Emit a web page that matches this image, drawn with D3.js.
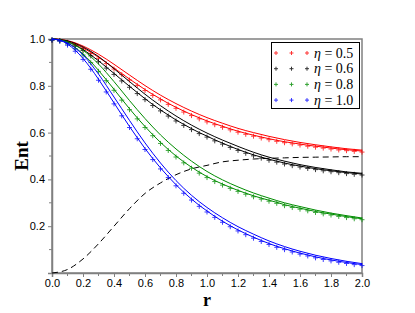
<!DOCTYPE html>
<html><head><meta charset="utf-8">
<script src="https://cdn.jsdelivr.net/npm/d3@7"></script>
<style>body{margin:0;background:#fff}svg{display:block}</style>
</head><body>
<script>
// ---- data ----
const rFine = [0.00,0.05,0.10,0.15,0.20,0.25,0.30,0.35,0.40,0.45,0.50,0.55,0.60,0.65,0.70,0.75,0.80,0.85,0.90,0.95,1.00,1.05,1.10,1.15,1.20,1.25,1.30,1.35,1.40,1.45,1.50,1.55,1.60,1.65,1.70,1.75,1.80,1.85,1.90,1.95,2.00];
const rCoarse = [0.0,0.1,0.2,0.3,0.4,0.5,0.6,0.7,0.8,0.9,1.0,1.1,1.2,1.3,1.4,1.5,1.6,1.7,1.8,1.9,2.0];

const red05Lower = [1.000,0.998,0.990,0.978,0.962,0.943,0.922,0.899,0.876,0.852,0.829,0.806,0.784,0.763,0.744,0.725,0.708,0.692,0.677,0.663,0.650,0.638,0.627,0.616,0.606,0.597,0.589,0.581,0.574,0.567,0.561,0.556,0.551,0.546,0.542,0.538,0.534,0.530,0.527,0.524,0.521];
const red05Upper = [1.000,0.993,0.970,0.935,0.892,0.846,0.801,0.760,0.724,0.692,0.664,0.640,0.618,0.600,0.584,0.570,0.558,0.548,0.539,0.531,0.525];

const blk06Lower = [1.000,0.997,0.988,0.974,0.955,0.932,0.907,0.880,0.853,0.825,0.798,0.771,0.745,0.720,0.697,0.675,0.654,0.635,0.617,0.600,0.585,0.569,0.555,0.541,0.528,0.516,0.505,0.495,0.486,0.478,0.470,0.463,0.457,0.451,0.446,0.441,0.437,0.433,0.429,0.426,0.423];
const blk06Upper = [1.000,0.992,0.966,0.925,0.873,0.818,0.764,0.715,0.671,0.632,0.598,0.568,0.541,0.516,0.495,0.478,0.463,0.451,0.441,0.432,0.426];

const grn08Lower = [1.000,0.996,0.983,0.963,0.936,0.903,0.866,0.826,0.785,0.743,0.702,0.663,0.626,0.591,0.558,0.528,0.500,0.475,0.452,0.431,0.412,0.395,0.380,0.366,0.353,0.341,0.330,0.320,0.311,0.302,0.292,0.284,0.277,0.270,0.263,0.257,0.252,0.246,0.241,0.236,0.232];
const grn08Upper = [1.000,0.988,0.952,0.893,0.818,0.737,0.660,0.590,0.530,0.478,0.434,0.398,0.368,0.342,0.320,0.300,0.284,0.269,0.256,0.245,0.235];

const blu10Lower = [1.000,0.995,0.978,0.952,0.917,0.875,0.828,0.778,0.727,0.676,0.626,0.578,0.532,0.489,0.449,0.412,0.377,0.345,0.316,0.289,0.265,0.242,0.221,0.202,0.184,0.168,0.153,0.139,0.126,0.114,0.104,0.094,0.085,0.077,0.069,0.062,0.056,0.050,0.045,0.040,0.036];
const blu10Upper = [1.000,0.983,0.932,0.850,0.752,0.652,0.556,0.470,0.395,0.332,0.280,0.236,0.198,0.166,0.137,0.113,0.093,0.076,0.062,0.050,0.040];

const dashedCurve = [0.000,0.015,0.060,0.125,0.200,0.275,0.340,0.385,0.420,0.445,0.460,0.475,0.482,0.487,0.490,0.492,0.494,0.495,0.496,0.497,0.497];

const etaLabels = ["0.5","0.6","0.8","1.0"];
const seriesColors = ["#ff0000","#000000","#008c00","#0000ff"];
const xTicks = [0.0,0.2,0.4,0.6,0.8,1.0,1.2,1.4,1.6,1.8,2.0];
const yTicks = [0.2,0.4,0.6,0.8,1.0];

const series = [
  {lower: red05Lower, upper: red05Upper},
  {lower: blk06Lower, upper: blk06Upper},
  {lower: grn08Lower, upper: grn08Upper},
  {lower: blu10Lower, upper: blu10Upper}
];

// ---- chart ----
const W = 415, H = 313;
const m = {left: 52, right: 53, top: 39, bottom: 40};
const svg = d3.select("body").append("svg").attr("width", W).attr("height", H);
const x = d3.scaleLinear().domain([0, 2]).range([m.left, W - m.right]);
const y = d3.scaleLinear().domain([0, 1]).range([H - m.bottom, m.top]);

const axisColor = "#808080";
// frame
svg.append("rect").attr("x", x(0)).attr("y", y(1)).attr("width", x(2) - x(0)).attr("height", y(0) - y(1))
  .attr("fill", "none").attr("stroke", axisColor).attr("stroke-width", 1.5);

// axes
const fontSans = "'Liberation Sans', Arial, sans-serif";
const xAxis = d3.axisBottom(x).tickValues(xTicks).tickFormat(d3.format(".1f")).tickSize(4).tickPadding(2);
const gx = svg.append("g").attr("transform", `translate(0,${y(0)})`).call(xAxis);
const yAxis = d3.axisLeft(y).tickValues(yTicks).tickFormat(d3.format(".1f")).tickSize(4).tickPadding(3);
const gy = svg.append("g").attr("transform", `translate(${x(0)},0)`).call(yAxis);
[gx, gy].forEach(g => {
  g.select(".domain").attr("stroke", axisColor).attr("stroke-width", 1.5);
  g.selectAll(".tick line").attr("stroke", axisColor);
  g.selectAll(".tick text").attr("fill", "#000").style("font-family", fontSans).style("font-size", "11px");
});
// minor ticks
const minorX = d3.range(1, 20, 2).map(i => i / 10);
svg.append("g").selectAll("line").data(minorX).join("line")
  .attr("x1", d => x(d)).attr("x2", d => x(d)).attr("y1", y(0)).attr("y2", y(0) + 3)
  .attr("stroke", axisColor);
const minorY = d3.range(1, 10, 2).map(i => i / 10);
svg.append("g").selectAll("line").data(minorY).join("line")
  .attr("y1", d => y(d)).attr("y2", d => y(d)).attr("x1", x(0)).attr("x2", x(0) - 3)
  .attr("stroke", axisColor);

// dashed curve
const lineC = d3.line().x((d, i) => x(rCoarse[i])).y(d => y(d)).curve(d3.curveMonotoneX);
const lineF = d3.line().x((d, i) => x(rFine[i])).y(d => y(d)).curve(d3.curveMonotoneX);
svg.append("path").attr("d", lineC(dashedCurve)).attr("fill", "none")
  .attr("stroke", "#000").attr("stroke-width", 1).attr("stroke-dasharray", "6,4");

// series
function plus(g, cx, cy, s, color, op) {
  g.append("path").attr("d", `M${cx - s},${cy}H${cx + s}M${cx},${cy - s}V${cy + s}`)
    .attr("stroke", color).attr("stroke-width", 1).attr("opacity", op);
}
series.forEach((s, k) => {
  const col = seriesColors[k];
  svg.append("path").attr("d", lineC(s.upper)).attr("fill", "none").attr("stroke", col).attr("stroke-width", 1);
  svg.append("path").attr("d", lineF(s.lower)).attr("fill", "none").attr("stroke", col).attr("stroke-width", 1);
  const g = svg.append("g");
  s.lower.forEach((v, i) => plus(g, x(rFine[i]), y(v) + 1, 2.5, col, 0.75));
});

// legend
const lg = svg.append("g");
lg.append("rect").attr("x", 271.5).attr("y", 42.5).attr("width", 88).attr("height", 66)
  .attr("fill", "#fff").attr("stroke", "#000").attr("stroke-width", 1);
etaLabels.forEach((lab, k) => {
  const yy = 53 + k * 15.7;
  [276, 291.5, 307].forEach(cx => plus(lg, cx, yy, 2, seriesColors[k], 0.8));
  const t = lg.append("text").attr("x", 314).attr("y", yy + 4.5)
    .style("font-family", "'Liberation Serif','DejaVu Serif',serif").style("font-size", "14px");
  t.append("tspan").style("font-style", "italic").text("η");
  t.append("tspan").text(" = " + lab);
});

// axis titles
svg.append("text").attr("x", x(1)).attr("y", 306).attr("text-anchor", "middle")
  .style("font-family", "'Liberation Serif','DejaVu Serif',serif").style("font-weight", "bold").style("font-size", "18px").text("r");
svg.append("text").attr("transform", `translate(28,${y(0.5)}) rotate(-90)`).attr("text-anchor", "middle")
  .style("font-family", "'Liberation Serif','DejaVu Serif',serif").style("font-weight", "bold").style("font-size", "19px").text("Ent");
</script>
</body></html>
